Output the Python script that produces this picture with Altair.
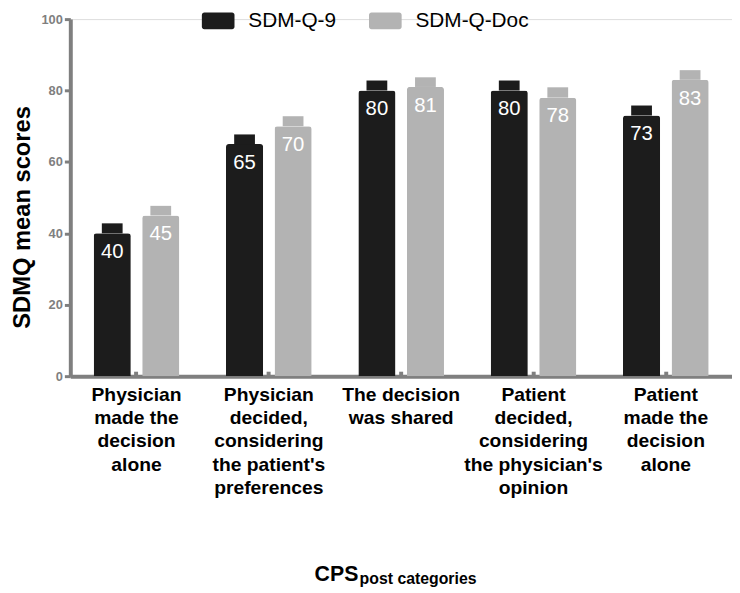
import altair as alt
import pandas as pd

# ---- data ----
categories = [
    "Physician\nmade the\ndecision\nalone",
    "Physician\ndecided,\nconsidering\nthe patient's\npreferences",
    "The decision\nwas shared",
    "Patient\ndecided,\nconsidering\nthe physician's\nopinion",
    "Patient\nmade the\ndecision\nalone",
]
series = ["SDM-Q-9", "SDM-Q-Doc"]
sdmq9 = [40, 65, 80, 80, 73]
sdmq9_err = [2.8, 2.7, 2.8, 2.8, 2.8]
sdmqdoc = [45, 70, 81, 78, 83]
sdmqdoc_err = [2.7, 2.8, 2.7, 2.9, 2.7]
y_ticks = [0, 20, 40, 60, 80, 100]
colors = ["#1c1c1c", "#b3b3b3"]

rows = []
for i, c in enumerate(categories):
    rows.append({"category": c, "series": series[0], "value": sdmq9[i],
                 "top": sdmq9[i] + sdmq9_err[i]})
    rows.append({"category": c, "series": series[1], "value": sdmqdoc[i],
                 "top": sdmqdoc[i] + sdmqdoc_err[i]})
df = pd.DataFrame(rows)

FONT = "Liberation Sans"
AXIS_GRAY = "#7f7f7f"

legend_path = ("M-0.85,-0.515 H0.85 A0.15,0.15 0 0 1 1,-0.365 V0.365 "
               "A0.15,0.15 0 0 1 0.85,0.515 H-0.85 A0.15,0.15 0 0 1 -1,0.365 "
               "V-0.365 A0.15,0.15 0 0 1 -0.85,-0.515 Z")

x_enc = alt.X(
    "category:N", sort=categories,
    scale=alt.Scale(paddingInner=0.2665, paddingOuter=0.1333),
    axis=alt.Axis(
        title=None, labelAngle=0, labelFont=FONT, labelFontSize=19.5,
        labelFontWeight="bold", labelColor="black", labelLineHeight=23.3,
        labelExpr="split(datum.label, '\\n')", labelPadding=15,
        labelLimit=300, domainColor=AXIS_GRAY, domainWidth=4,
        ticks=True, tickColor=AXIS_GRAY, tickWidth=4,
        tickSize={"expr": "-5"},
    ),
)
xoff_enc = alt.XOffset(
    "series:N", sort=series,
    scale=alt.Scale(paddingInner=0.235, paddingOuter=0.1175),
)
y_scale = alt.Scale(domain=[0, 100])

base = alt.Chart(df).encode(x=x_enc, xOffset=xoff_enc)

bars = base.mark_bar(cornerRadiusTopLeft=3, cornerRadiusTopRight=3).encode(
    y=alt.Y(
        "value:Q", scale=y_scale,
        axis=alt.Axis(
            values=y_ticks, grid=False, title="SDMQ mean scores",
            titleFont=FONT, titleFontSize=24, titleFontWeight="bold",
            titleColor="black", titleAngle=270, titleX=-48, titleY=200,
            titleAlign="center", titleBaseline="middle",
            labelFont=FONT, labelFontSize=13, labelFontWeight="bold",
            labelColor=AXIS_GRAY, labelPadding=2,
            domainColor=AXIS_GRAY, domainWidth=4,
            tickColor=AXIS_GRAY, tickWidth=3, tickSize=6,
        ),
    ),
    color=alt.Color(
        "series:N", sort=series,
        scale=alt.Scale(domain=series, range=colors),
        legend=alt.Legend(
            title=None, orient="none", direction="horizontal",
            legendX=133, legendY=-15,
            symbolType=legend_path, symbolSize=1089, symbolStrokeWidth=0,
            symbolOpacity=1, labelFont=FONT, labelFontSize=21,
            labelColor="black", labelOffset=14, columnPadding=33,
        ),
    ),
)

caps = base.mark_bar(width=21).encode(
    y=alt.Y("value:Q", scale=y_scale),
    y2="top:Q",
    color=alt.Color("series:N", sort=series,
                    scale=alt.Scale(domain=series, range=colors), legend=None),
)

labels = base.mark_text(
    dy=19, baseline="middle", align="center", color="white",
    font=FONT, fontSize=20.5,
).encode(
    y=alt.Y("value:Q", scale=y_scale),
    text=alt.Text("value:Q"),
)

title_df = pd.DataFrame([{"t": "CPS", "s": "post categories"}])
title_main = alt.Chart(title_df).mark_text(
    align="left", baseline="alphabetic", font=FONT, fontSize=21.5,
    fontWeight="bold", color="black",
).encode(text="t:N", x=alt.value(247), y=alt.value(568))
title_sub = alt.Chart(title_df).mark_text(
    align="left", baseline="alphabetic", font=FONT, fontSize=16,
    fontWeight="bold", color="black",
).encode(text="s:N", x=alt.value(292.5), y=alt.value(571.5))

chart = alt.layer(bars, caps, labels, title_main, title_sub).properties(
    width=669, height=361,
    autosize=alt.AutoSizeParams(type="none"),
    padding={"left": 63, "top": 8, "right": 0, "bottom": 216},
).configure_view(stroke=None).configure(background="white")

chart.save("out.html", embed_options={"renderer": "svg", "actions": False})
